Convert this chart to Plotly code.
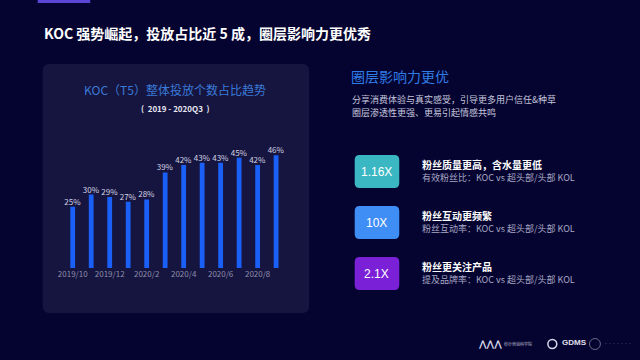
import plotly.graph_objects as go

# ---- data ----
months = ["2019/10", "2019/11", "2019/12", "2020/1", "2020/2", "2020/3",
          "2020/4", "2020/5", "2020/6", "2020/7", "2020/8", "2020/9"]
koc_share = [25, 30, 29, 27, 28, 39, 42, 43, 43, 45, 42, 46]
tick_months = ["2019/10", "2019/12", "2020/2", "2020/4", "2020/6", "2020/8"]

multipliers = ["1.16X", "10X", "2.1X"]
headings = ["粉丝质量更高，含水量更低", "粉丝互动更频繁", "粉丝更关注产品"]
subtexts = ["有效粉丝比：KOC vs 超头部/头部 KOL",
            "粉丝互动率：KOC vs 超头部/头部 KOL",
            "提及品牌率：KOC vs 超头部/头部 KOL"]
box_colors = ["#3bb7c3", "#3f8ef6", "#7a21d8"]

W, H = 640, 360
FONT = "Noto Sans CJK SC"


def px(x):
    return x / W


def py(y):
    return 1 - y / H


def rounded(x0, y0, x1, y1, r):
    # pixel coords -> paper path with quadratic corners
    pts = [
        f"M {px(x0 + r)} {py(y0)}",
        f"L {px(x1 - r)} {py(y0)}",
        f"Q {px(x1)} {py(y0)} {px(x1)} {py(y0 + r)}",
        f"L {px(x1)} {py(y1 - r)}",
        f"Q {px(x1)} {py(y1)} {px(x1 - r)} {py(y1)}",
        f"L {px(x0 + r)} {py(y1)}",
        f"Q {px(x0)} {py(y1)} {px(x0)} {py(y1 - r)}",
        f"L {px(x0)} {py(y0 + r)}",
        f"Q {px(x0)} {py(y0)} {px(x0 + r)} {py(y0)}",
        "Z",
    ]
    return " ".join(pts)


fig = go.Figure()
fig.add_trace(go.Bar(
    x=months, y=koc_share,
    width=0.26,
    marker=dict(color="#1a5ff6", line=dict(width=0)),
    text=[f"{v}%" for v in koc_share],
    textposition="outside",
    constraintext="none",
    textfont=dict(size=8, color="#d2d2e4", family=FONT),
    cliponaxis=False,
    hoverinfo="skip",
))

shapes = []
annotations = []

# top accent bar
shapes.append(dict(type="rect", xref="paper", yref="paper",
                   x0=px(32), x1=px(85), y0=py(3), y1=py(0),
                   line=dict(width=0), fillcolor="#5b45d6", layer="below"))
# chart panel
shapes.append(dict(type="path", xref="paper", yref="paper",
                   path=rounded(37, 64, 306, 313, 7),
                   line=dict(width=0), fillcolor="#16153f", layer="below"))

# main title
annotations.append(dict(x=px(36), y=py(33), xref="paper", yref="paper",
                        xanchor="left", yanchor="middle", showarrow=False,
                        text="<b>KOC 强势崛起，投放占比近 5 成，圈层影响力更优秀</b>",
                        font=dict(size=14, color="#ffffff", family=FONT)))
# chart title
annotations.append(dict(x=px(171), y=py(89), xref="paper", yref="paper",
                        xanchor="center", yanchor="middle", showarrow=False,
                        text="KOC（T5）整体投放个数占比趋势",
                        font=dict(size=12, color="#3a7ad8", family=FONT)))
annotations.append(dict(x=px(171), y=py(108), xref="paper", yref="paper",
                        xanchor="center", yanchor="middle", showarrow=False,
                        text="<b>(  2019 - 2020Q3  )</b>",
                        font=dict(size=8, color="#e8e8f2", family=FONT)))

# right heading
annotations.append(dict(x=px(346), y=py(76), xref="paper", yref="paper",
                        xanchor="left", yanchor="middle", showarrow=False,
                        text="圈层影响力更优",
                        font=dict(size=14, color="#2f7ce6", family=FONT)))
annotations.append(dict(x=px(347), y=py(99), xref="paper", yref="paper",
                        xanchor="left", yanchor="middle", showarrow=False,
                        text="分享消费体验与真实感受，引导更多用户信任&种草",
                        font=dict(size=9, color="#c6c6dc", family=FONT)))
annotations.append(dict(x=px(347), y=py(112), xref="paper", yref="paper",
                        xanchor="left", yanchor="middle", showarrow=False,
                        text="圈层渗透性更强、更易引起情感共鸣",
                        font=dict(size=9, color="#c6c6dc", family=FONT)))

box_tops = [155, 206, 257]
for i in range(3):
    t = box_tops[i]
    shapes.append(dict(type="path", xref="paper", yref="paper",
                       path=rounded(352, t, 397, t + 33, 5),
                       line=dict(width=0), fillcolor=box_colors[i], layer="below"))
    annotations.append(dict(x=px(374.5), y=py(t + 16.5), xref="paper", yref="paper",
                            xanchor="center", yanchor="middle", showarrow=False,
                            text=multipliers[i],
                            font=dict(size=12, color="#ffffff", family="Liberation Sans")))
    annotations.append(dict(x=px(418), y=py(t + 9.5), xref="paper", yref="paper",
                            xanchor="left", yanchor="middle", showarrow=False,
                            text=f"<b>{headings[i]}</b>",
                            font=dict(size=10, color="#ffffff", family=FONT)))
    annotations.append(dict(x=px(418), y=py(t + 22), xref="paper", yref="paper",
                            xanchor="left", yanchor="middle", showarrow=False,
                            text=subtexts[i],
                            font=dict(size=9, color="#a8a8c4", family=FONT)))

# footer logos (approximation)
annotations.append(dict(x=px(489), y=py(344), xref="paper", yref="paper",
                        xanchor="center", yanchor="middle", showarrow=False,
                        text="<b>⋀⋀⋀</b>",
                        font=dict(size=9, color="#d8d8e8", family="DejaVu Sans")))
annotations.append(dict(x=px(517), y=py(344), xref="paper", yref="paper",
                        xanchor="center", yanchor="middle", showarrow=False,
                        text="秒针营销科学院",
                        font=dict(size=4, color="#b8b8cc", family=FONT)))
shapes.append(dict(type="circle", xref="paper", yref="paper",
                   x0=px(547), x1=px(556), y0=py(348.5), y1=py(339.5),
                   line=dict(width=1.5, color="#d8d8e8")))
annotations.append(dict(x=px(559), y=py(342), xref="paper", yref="paper",
                        xanchor="left", yanchor="middle", showarrow=False,
                        text="<b>GDMS</b>",
                        font=dict(size=8, color="#e0e0ec", family="Liberation Sans")))
shapes.append(dict(type="circle", xref="paper", yref="paper",
                   x0=px(589), x1=px(600), y0=py(349.5), y1=py(338.5),
                   line=dict(width=1, color="#6a6a86")))
annotations.append(dict(x=px(602), y=py(344), xref="paper", yref="paper",
                        xanchor="left", yanchor="middle", showarrow=False,
                        text="·······",
                        font=dict(size=4, color="#6a6a86", family=FONT)))

fig.update_layout(
    width=W, height=H,
    margin=dict(l=0, r=0, t=0, b=0),
    paper_bgcolor="#050431",
    plot_bgcolor="rgba(0,0,0,0)",
    showlegend=False,
    bargap=0.7,
    shapes=shapes,
    annotations=annotations,
    xaxis=dict(domain=[px(58), px(282)], range=[-0.5, 11.5],
               type="category", showgrid=False, zeroline=False, showline=False,
               tickmode="array", tickvals=tick_months, ticktext=tick_months,
               ticks="", ticklen=0, fixedrange=True,
               tickfont=dict(size=8, color="#8e8eaa", family=FONT)),
    yaxis=dict(domain=[py(268), py(145.5)], range=[0, 50], fixedrange=True,
               visible=False, showgrid=False, zeroline=False),
)

fig.write_html(
    "out.html",
    config={"displayModeBar": False, "staticPlot": True},
    post_script="document.body.style.margin='0';document.body.style.overflow='hidden';"
                "document.body.style.background='#050431';",
)
